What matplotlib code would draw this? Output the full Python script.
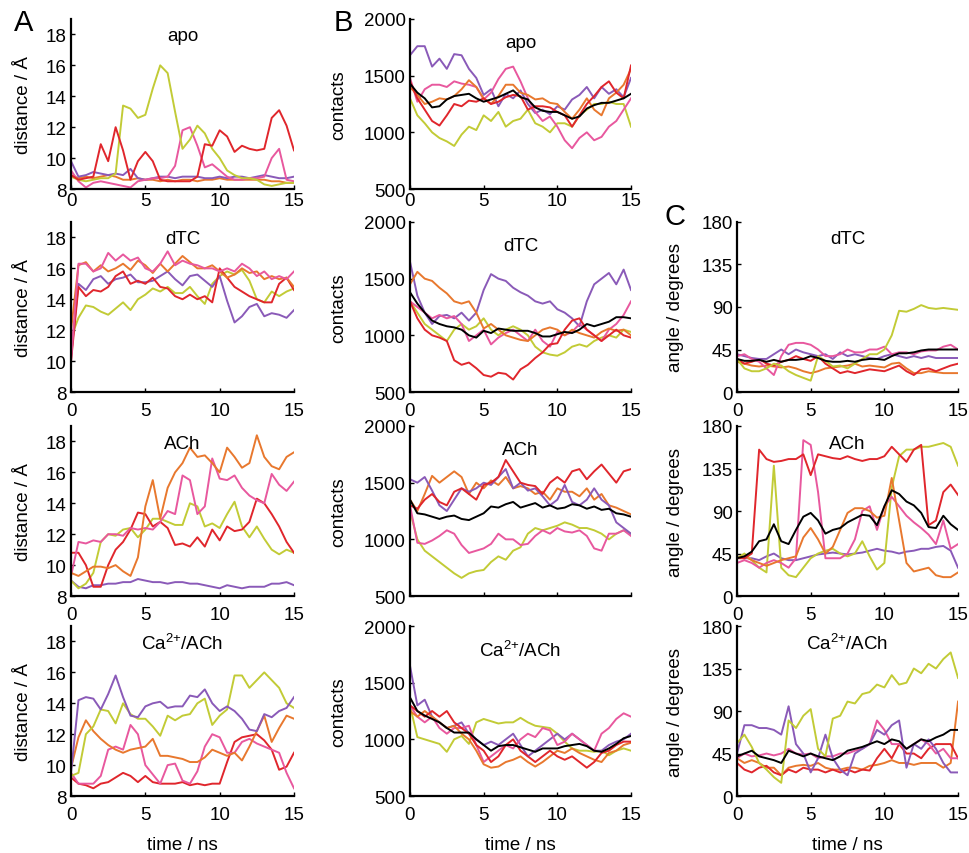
#!/usr/bin/env python3
"""Distance / contacts / angle time traces, 3 columns of small panels."""

import matplotlib
matplotlib.use("Agg")
import matplotlib.pyplot as plt
import numpy as np

plt.rcParams["font.family"] = ["Liberation Sans", "DejaVu Sans"]
plt.rcParams["mathtext.default"] = "regular"

# sampling grid of the traces (ns)
TIME_NS = np.linspace(0.0, 15.0, 31)

RED = "#e0262c"
ORANGE = "#e8782e"
PINK = "#e8589e"
PURPLE = "#8a5ab8"
YELLOW = "#c2cb36"
BLACK = "#000000"

# ---- A: distance / Angstrom ----
dist_apo_yellow = [8.8, 8.6, 8.5, 8.6, 8.7, 8.7, 9.0, 13.4, 13.2, 12.6, 12.8, 14.5, 16.0, 15.5, 13.0, 10.6,
                   11.2, 12.1, 11.6, 10.6, 10.0, 9.2, 8.9, 8.7, 8.7, 8.6, 8.3, 8.2, 8.3, 8.4, 8.4]
dist_apo_red = [8.9, 8.6, 8.7, 8.8, 10.9, 9.8, 12.0, 10.5, 8.6, 9.8, 10.4, 9.8, 8.6, 8.5, 8.5, 8.5,
                8.5, 8.8, 10.9, 10.8, 11.8, 11.4, 10.4, 10.8, 10.6, 10.5, 10.6, 12.6, 13.1, 12.1, 10.5]
dist_apo_pink = [9.2, 8.5, 8.1, 8.4, 8.5, 8.4, 8.3, 8.2, 8.1, 8.5, 8.6, 8.7, 8.7, 8.8, 9.5, 11.8,
                 12.0, 10.8, 9.4, 9.6, 9.2, 8.8, 8.6, 8.6, 8.7, 8.7, 8.8, 10.0, 10.6, 8.6, 8.5]
dist_apo_purple = [9.8, 8.8, 8.9, 9.1, 9.0, 8.9, 9.0, 8.9, 9.3, 8.7, 8.6, 8.7, 8.8, 8.8, 8.7, 8.8,
                   8.8, 8.8, 8.7, 8.7, 8.8, 8.7, 8.8, 8.8, 8.7, 8.8, 8.9, 8.8, 8.7, 8.7, 8.8]
dist_apo_orange = [8.9, 8.7, 8.8, 8.7, 8.8, 8.9, 8.8, 8.6, 8.6, 8.7, 8.6, 8.6, 8.5, 8.6, 8.5, 8.6,
                   8.6, 8.5, 8.6, 8.6, 8.7, 8.6, 8.6, 8.6, 8.6, 8.6, 8.6, 8.5, 8.5, 8.4, 8.4]

dist_dtc_pink = [10.0, 16.3, 16.3, 15.8, 16.0, 17.0, 16.5, 16.9, 16.5, 16.7, 16.0, 15.8, 16.3, 17.1, 16.2, 16.5,
                 16.3, 16.2, 16.0, 16.0, 15.8, 16.0, 15.8, 16.3, 16.0, 15.5, 15.8, 15.3, 15.5, 15.3, 15.8]
dist_dtc_orange = [12.0, 16.2, 16.4, 15.8, 16.2, 15.8, 16.0, 16.3, 15.9, 16.5, 16.2, 15.7, 16.3, 15.8, 16.3, 16.8,
                   16.4, 16.0, 16.0, 16.2, 15.8, 15.4, 15.6, 16.0, 15.7, 15.8, 15.3, 15.5, 15.3, 15.4, 14.8]
dist_dtc_red = [10.0, 14.8, 14.2, 14.6, 14.5, 14.8, 15.5, 15.8, 15.0, 15.2, 15.0, 15.4, 14.8, 14.7, 14.2, 14.0,
                14.3, 14.0, 14.2, 13.8, 16.0, 15.4, 14.8, 14.5, 14.2, 14.0, 13.8, 13.8, 15.0, 15.4, 14.6]
dist_dtc_purple = [10.3, 15.0, 14.6, 15.3, 15.5, 15.0, 15.3, 15.4, 15.6, 15.1, 15.1, 15.2, 15.5, 15.8, 15.3, 14.9,
                   15.5, 15.6, 15.2, 14.8, 15.5, 13.9, 12.5, 12.9, 13.5, 13.7, 12.9, 13.1, 13.0, 12.8, 13.3]
dist_dtc_yellow = [11.5, 12.8, 13.6, 13.5, 13.2, 13.0, 13.4, 13.8, 13.3, 14.0, 14.3, 14.7, 14.5, 14.8, 14.4, 14.4,
                   14.8, 14.2, 13.7, 15.0, 15.5, 15.8, 15.6, 15.9, 15.2, 14.0, 13.8, 14.5, 14.2, 14.5, 14.7]

dist_ach_orange = [9.5, 9.3, 9.6, 9.9, 9.9, 9.8, 10.0, 9.6, 9.3, 10.5, 13.8, 15.5, 13.0, 15.0, 16.0, 16.6,
                   17.6, 17.0, 17.1, 16.6, 16.0, 17.6, 17.0, 16.3, 16.6, 18.4, 17.0, 16.4, 16.2, 17.0, 17.3]
dist_ach_pink = [9.3, 11.5, 11.4, 11.6, 11.5, 12.0, 12.0, 11.9, 12.4, 12.3, 12.4, 12.3, 12.8, 13.5, 13.3, 15.8,
                 15.5, 13.3, 13.8, 16.9, 15.6, 15.5, 15.8, 15.0, 14.5, 14.2, 14.0, 15.9, 15.2, 14.8, 15.4]
dist_ach_red = [10.8, 10.8, 10.0, 8.6, 8.6, 10.0, 11.0, 11.5, 12.3, 13.4, 13.3, 12.5, 12.8, 12.4, 11.3, 11.4,
                11.2, 11.8, 11.2, 12.3, 11.6, 12.5, 12.2, 12.3, 12.8, 14.3, 14.0, 13.3, 12.5, 11.5, 10.8]
dist_ach_yellow = [9.0, 8.5, 8.8, 9.5, 11.5, 12.0, 11.9, 12.3, 12.4, 11.8, 12.3, 13.0, 13.0, 12.8, 12.6, 12.6,
                   14.0, 13.8, 12.5, 12.7, 12.4, 13.3, 14.1, 12.5, 11.8, 12.5, 11.7, 11.0, 10.7, 11.0, 10.8]
dist_ach_purple = [9.0, 8.6, 8.5, 8.7, 8.7, 8.8, 8.8, 8.9, 8.9, 9.1, 9.0, 8.9, 8.9, 8.8, 8.9, 8.9,
                   8.8, 8.8, 8.7, 8.6, 8.5, 8.7, 8.6, 8.5, 8.6, 8.6, 8.6, 8.8, 8.8, 8.9, 8.7]

dist_ca_purple = [9.5, 14.2, 14.4, 14.3, 13.6, 14.6, 15.8, 14.4, 13.2, 13.1, 13.8, 14.0, 14.1, 13.7, 13.8, 13.8,
                  14.5, 14.4, 14.9, 14.0, 13.5, 13.8, 13.5, 13.0, 12.3, 12.2, 13.3, 13.1, 13.5, 13.7, 14.4]
dist_ca_yellow = [9.3, 9.5, 12.0, 12.5, 13.6, 13.5, 12.7, 14.0, 13.3, 13.0, 13.0, 12.5, 11.9, 13.2, 12.9, 13.2,
                  13.3, 14.0, 14.3, 12.6, 13.2, 13.6, 15.8, 15.8, 15.0, 15.5, 16.0, 15.5, 15.0, 14.0, 13.7]
dist_ca_orange = [9.8, 11.8, 12.9, 12.2, 11.7, 11.3, 11.0, 10.8, 11.0, 11.1, 11.2, 11.7, 10.6, 10.6, 10.5, 10.4,
                  10.2, 10.2, 10.5, 11.0, 10.8, 10.6, 10.8, 10.3, 11.2, 12.2, 13.2, 11.5, 12.4, 13.2, 13.0]
dist_ca_pink = [9.5, 8.8, 8.8, 8.8, 9.3, 11.0, 11.2, 11.0, 12.6, 12.0, 10.0, 9.4, 8.8, 10.0, 10.1, 9.0,
                8.8, 9.6, 11.2, 12.0, 11.8, 10.8, 10.8, 11.5, 11.7, 11.4, 11.2, 11.0, 10.8, 9.5, 8.5]
dist_ca_red = [9.2, 8.8, 8.7, 8.5, 8.8, 8.9, 9.2, 9.5, 9.3, 8.9, 9.3, 8.9, 8.8, 8.8, 8.8, 8.9,
               8.7, 8.8, 8.7, 8.8, 8.8, 10.2, 11.5, 11.8, 11.9, 12.0, 11.6, 11.0, 9.7, 9.9, 10.8]

# ---- B: contacts ----
cont_apo_purple = [1680, 1760, 1760, 1580, 1650, 1560, 1690, 1680, 1560, 1480, 1330, 1380, 1230, 1340, 1300, 1370,
                   1250, 1170, 1200, 1160, 1230, 1200, 1290, 1330, 1400, 1300, 1400, 1340, 1380, 1310, 1480]
cont_apo_pink = [1480, 1270, 1380, 1420, 1420, 1400, 1450, 1430, 1420, 1400, 1290, 1350, 1470, 1560, 1580, 1450,
                 1300, 1180, 1100, 1140, 1050, 930, 860, 950, 1000, 930, 960, 1050, 1100, 1200, 1300]
cont_apo_orange = [1400, 1330, 1250, 1270, 1300, 1290, 1320, 1380, 1460, 1400, 1300, 1250, 1320, 1420, 1420, 1350,
                   1330, 1290, 1300, 1260, 1250, 1180, 1120, 1200, 1300, 1200, 1150, 1300, 1350, 1420, 1560]
cont_apo_red = [1450, 1300, 1200, 1100, 1060, 1150, 1250, 1230, 1280, 1270, 1300, 1250, 1270, 1310, 1330, 1320,
                1200, 1230, 1230, 1220, 1180, 1150, 1050, 1150, 1250, 1320, 1400, 1450, 1350, 1300, 1590]
cont_apo_yellow = [1300, 1150, 1080, 1000, 950, 920, 880, 980, 1050, 1020, 1150, 1100, 1180, 1050, 1100, 1120,
                   1200, 1080, 1050, 1000, 1080, 1080, 1050, 1150, 1200, 1250, 1250, 1270, 1250, 1250, 1050]
cont_apo_black = [1430, 1350, 1300, 1220, 1230, 1290, 1320, 1330, 1340, 1300, 1270, 1290, 1310, 1340, 1370, 1310,
                  1290, 1220, 1190, 1180, 1180, 1150, 1120, 1140, 1210, 1240, 1260, 1260, 1280, 1300, 1340]

cont_dtc_purple = [1650, 1350, 1200, 1100, 1170, 1180, 1150, 1200, 1130, 1200, 1400, 1540, 1500, 1480, 1420, 1380,
                   1350, 1300, 1280, 1300, 1230, 1200, 1150, 1080, 1300, 1450, 1500, 1550, 1450, 1580, 1400]
cont_dtc_orange = [1450, 1560, 1500, 1480, 1420, 1370, 1300, 1280, 1300, 1200, 1060, 1100, 1050, 1000, 980, 960,
                   950, 1000, 1050, 1070, 1050, 1000, 1050, 1020, 1000, 980, 1030, 1060, 1040, 1050, 1000]
cont_dtc_pink = [1300, 1250, 1200, 1150, 1180, 1150, 1170, 1100, 950, 1000, 1050, 920, 980, 1020, 1050, 1000,
                 950, 1050, 950, 900, 1030, 1000, 1030, 1100, 1050, 1000, 950, 1050, 1100, 1180, 1300]
cont_dtc_red = [1300, 1150, 1050, 1000, 980, 950, 780, 740, 760, 710, 650, 635, 670, 660, 610, 700,
                740, 800, 850, 920, 930, 1050, 1130, 1150, 1050, 1000, 950, 1000, 1050, 1000, 980]
cont_dtc_yellow = [1300, 1200, 1100, 1050, 1000, 950, 1050, 1100, 1050, 1080, 1150, 1050, 1000, 1050, 1080, 1050,
                   1000, 900, 850, 830, 820, 850, 900, 920, 900, 950, 980, 1000, 980, 1050, 1030]
cont_dtc_black = [1380, 1280, 1200, 1130, 1100, 1080, 1070, 1050, 1000, 980, 1040, 1020, 1060, 1050, 1040, 1040,
                  1040, 1020, 990, 990, 1010, 1030, 1020, 1050, 1100, 1080, 1100, 1120, 1160, 1160, 1150]

cont_ach_red = [1300, 1270, 1350, 1400, 1330, 1300, 1420, 1450, 1400, 1350, 1480, 1500, 1550, 1700, 1600, 1500,
                1480, 1470, 1400, 1500, 1550, 1500, 1600, 1620, 1530, 1600, 1660, 1580, 1500, 1600, 1620]
cont_ach_orange = [1350, 1250, 1400, 1560, 1500, 1550, 1600, 1550, 1400, 1500, 1450, 1520, 1480, 1550, 1450, 1470,
                   1450, 1400, 1420, 1350, 1450, 1420, 1420, 1380, 1450, 1350, 1400, 1300, 1280, 1250, 1220]
cont_ach_purple = [1530, 1500, 1550, 1430, 1300, 1250, 1350, 1450, 1420, 1450, 1500, 1480, 1550, 1620, 1450, 1500,
                   1430, 1450, 1380, 1300, 1350, 1480, 1330, 1300, 1350, 1450, 1350, 1300, 1150, 1100, 1050]
cont_ach_black = [1350, 1230, 1220, 1200, 1180, 1200, 1210, 1180, 1170, 1200, 1230, 1290, 1280, 1310, 1330, 1280,
                  1300, 1320, 1280, 1300, 1270, 1280, 1310, 1300, 1270, 1290, 1260, 1270, 1230, 1220, 1200]
cont_ach_pink = [1300, 970, 960, 990, 1030, 1080, 1050, 950, 880, 900, 920, 960, 1050, 1000, 1000, 950,
                 960, 1030, 1080, 1050, 1100, 1070, 1060, 1080, 1030, 920, 900, 1050, 1050, 1080, 1030]
cont_ach_yellow = [1250, 1000, 900, 850, 800, 750, 700, 660, 700, 720, 730, 800, 850, 820, 900, 930,
                   1050, 1100, 1080, 1100, 1120, 1150, 1130, 1100, 1100, 1080, 1050, 1000, 1050, 1080, 1050]

cont_ca_black = [1370, 1250, 1210, 1180, 1150, 1100, 1060, 1060, 1060, 1000, 950, 900, 940, 950, 950, 930,
                 910, 890, 920, 920, 920, 940, 950, 960, 940, 900, 890, 920, 960, 1010, 1030]
cont_ca_yellow = [1300, 1020, 1000, 980, 960, 890, 1000, 1030, 960, 1150, 1180, 1160, 1140, 1150, 1150, 1190,
                  1150, 1120, 1110, 1100, 1050, 980, 920, 900, 900, 890, 900, 860, 900, 920, 900]
cont_ca_pink = [1300, 1200, 1150, 1200, 1100, 1050, 1100, 1100, 1120, 950, 800, 850, 900, 950, 920, 1000,
                1050, 1020, 1100, 1080, 950, 980, 1050, 1000, 950, 900, 1050, 1100, 1180, 1230, 1200]
cont_ca_purple = [1650, 1300, 1350, 1200, 1150, 1100, 1120, 1150, 1050, 1000, 950, 980, 950, 1000, 1050, 950,
                  850, 900, 950, 1000, 1050, 1000, 1050, 1000, 950, 900, 900, 950, 980, 1000, 1050]
cont_ca_red = [1300, 1250, 1200, 1250, 1200, 1250, 1150, 1100, 1050, 950, 900, 800, 850, 950, 1000, 900,
               850, 800, 850, 900, 850, 820, 850, 800, 750, 800, 880, 900, 950, 980, 980]
cont_ca_orange = [1250, 1200, 1250, 1200, 1150, 1100, 1120, 1050, 1000, 900, 780, 750, 760, 800, 820, 850,
                  800, 760, 800, 850, 900, 880, 920, 880, 850, 820, 800, 880, 900, 950, 970]

# ---- C: angle / degrees ----
ang_dtc_yellow = [35, 25, 22, 22, 25, 30, 28, 22, 18, 15, 12, 38, 33, 27, 28, 25,
                  30, 35, 40, 40, 45, 60, 86, 85, 88, 92, 89, 88, 89, 88, 87]
ang_dtc_pink = [38, 40, 35, 32, 25, 18, 38, 50, 52, 52, 50, 45, 38, 38, 40, 45,
                42, 42, 45, 45, 48, 40, 42, 42, 40, 43, 44, 44, 48, 50, 45]
ang_dtc_purple = [40, 38, 36, 35, 35, 40, 45, 40, 45, 42, 40, 38, 40, 35, 42, 38,
                  40, 38, 36, 35, 38, 40, 38, 36, 38, 36, 38, 36, 36, 36, 36]
ang_dtc_black = [35, 33, 33, 34, 32, 34, 32, 34, 34, 35, 38, 36, 33, 32, 32, 33,
                 32, 34, 35, 35, 34, 38, 41, 41, 42, 44, 45, 45, 45, 45, 45]
ang_dtc_red = [35, 30, 32, 35, 30, 28, 32, 34, 38, 35, 33, 38, 30, 25, 20, 22,
               20, 22, 24, 23, 22, 25, 28, 22, 18, 24, 25, 22, 25, 28, 30]
ang_dtc_orange = [32, 30, 28, 27, 28, 27, 26, 27, 25, 22, 20, 22, 25, 26, 27, 28,
                  30, 27, 28, 27, 26, 30, 31, 25, 20, 20, 22, 21, 20, 20, 20]

ang_ach_red = [40, 40, 45, 155, 145, 142, 143, 145, 145, 150, 128, 150, 148, 146, 145, 148,
               145, 143, 145, 145, 148, 158, 150, 142, 155, 160, 75, 80, 110, 118, 107]
ang_ach_yellow = [40, 45, 38, 30, 25, 138, 30, 22, 20, 30, 40, 45, 48, 50, 45, 42,
                  45, 58, 42, 28, 35, 115, 148, 155, 155, 158, 158, 160, 162, 158, 138]
ang_ach_pink = [35, 38, 35, 30, 35, 38, 35, 30, 40, 165, 160, 110, 40, 40, 40, 45,
                60, 90, 95, 70, 95, 105, 95, 85, 78, 72, 65, 55, 80, 50, 55]
ang_ach_orange = [40, 42, 38, 35, 32, 35, 38, 40, 42, 62, 72, 60, 45, 52, 70, 88,
                  93, 93, 90, 83, 85, 125, 80, 35, 26, 28, 30, 22, 20, 20, 25]
ang_ach_purple = [42, 40, 40, 38, 42, 45, 40, 38, 38, 40, 42, 44, 45, 46, 45, 44,
                  45, 46, 48, 50, 48, 47, 45, 47, 48, 50, 50, 52, 53, 48, 30]
ang_ach_black = [40, 42, 47, 58, 60, 76, 58, 55, 70, 84, 88, 80, 66, 70, 72, 78,
                 82, 86, 85, 75, 95, 112, 108, 100, 96, 88, 73, 72, 85, 76, 70]

ang_ca_yellow = [56, 65, 52, 35, 28, 20, 14, 80, 72, 85, 92, 50, 42, 82, 85, 100,
                 98, 108, 110, 118, 115, 128, 118, 120, 135, 130, 140, 135, 145, 152, 125]
ang_ca_black = [42, 45, 48, 42, 40, 38, 35, 48, 45, 42, 45, 42, 40, 38, 42, 48,
                50, 52, 55, 58, 55, 60, 58, 50, 55, 60, 58, 62, 65, 70, 70]
ang_ca_purple = [45, 75, 75, 72, 72, 70, 65, 95, 55, 45, 25, 40, 65, 40, 28, 22,
                 45, 50, 55, 70, 65, 75, 80, 30, 55, 50, 60, 50, 35, 25, 25]
ang_ca_pink = [40, 45, 42, 43, 45, 43, 45, 50, 45, 44, 45, 40, 42, 42, 45, 45,
               48, 50, 55, 80, 70, 55, 55, 50, 55, 60, 55, 45, 50, 40, 40]
ang_ca_orange = [40, 35, 38, 35, 30, 30, 22, 30, 32, 33, 32, 35, 30, 28, 28, 30,
                 30, 28, 32, 33, 35, 38, 35, 35, 33, 35, 35, 35, 30, 35, 100]
ang_ca_red = [35, 28, 25, 30, 32, 25, 22, 28, 25, 30, 28, 28, 25, 28, 25, 28,
              25, 28, 27, 40, 50, 40, 55, 45, 45, 40, 50, 55, 55, 55, 40]

CA_TITLE = "Ca$^{2{+}}$/ACh"

# column geometry in figure fractions
COL_LEFT = [0.0733, 0.4231, 0.7606]
COL_WIDTH = [0.2301, 0.2281, 0.2281]
ROW_BOTTOM = [0.7775, 0.5398, 0.3009, 0.0667]
ROW_HEIGHT = 0.1991
FS = 13.5


def style_axes(ax, row, ylim, yticks, ylabel, label_x, show_xticklabels=True):
    ax.set_xlim(0, 15)
    ax.set_ylim(*ylim)
    ax.set_xticks([0, 5, 10, 15])
    ax.set_yticks(yticks)
    for side in ("top", "right"):
        ax.spines[side].set_visible(False)
    for side in ("left", "bottom"):
        ax.spines[side].set_linewidth(1.6)
    ax.tick_params(direction="in", length=3, width=1, labelsize=FS, pad=3)
    # the top row has its x labels sitting closer to the axis
    ax.tick_params(axis="x", pad=2 if row == 0 else 7)
    if not show_xticklabels:
        ax.set_xticklabels([])
    ax.set_ylabel(ylabel, fontsize=FS)
    ax.yaxis.set_label_coords(label_x, 0.5)
    if row == 3:
        ax.set_xlabel("time / ns", fontsize=FS)
        ax.xaxis.set_label_coords(0.5, -0.235)


def draw_panel(ax, series, title, title_y):
    for values, color in series:
        ax.plot(TIME_NS, values, color=color, linewidth=1.4, solid_joinstyle="round")
    ax.text(0.5, title_y, title, transform=ax.transAxes, ha="center", va="center", fontsize=FS)


fig = plt.figure(figsize=(9.69, 8.54), dpi=100)

col_a = [
    ("apo", [(dist_apo_orange, ORANGE), (dist_apo_purple, PURPLE), (dist_apo_pink, PINK),
             (dist_apo_yellow, YELLOW), (dist_apo_red, RED)]),
    ("dTC", [(dist_dtc_yellow, YELLOW), (dist_dtc_purple, PURPLE), (dist_dtc_red, RED),
             (dist_dtc_orange, ORANGE), (dist_dtc_pink, PINK)]),
    ("ACh", [(dist_ach_purple, PURPLE), (dist_ach_yellow, YELLOW), (dist_ach_red, RED),
             (dist_ach_pink, PINK), (dist_ach_orange, ORANGE)]),
    (CA_TITLE, [(dist_ca_red, RED), (dist_ca_pink, PINK), (dist_ca_orange, ORANGE),
                (dist_ca_yellow, YELLOW), (dist_ca_purple, PURPLE)]),
]
col_b = [
    ("apo", [(cont_apo_yellow, YELLOW), (cont_apo_purple, PURPLE), (cont_apo_pink, PINK),
             (cont_apo_orange, ORANGE), (cont_apo_red, RED), (cont_apo_black, BLACK)]),
    ("dTC", [(cont_dtc_yellow, YELLOW), (cont_dtc_purple, PURPLE), (cont_dtc_pink, PINK),
             (cont_dtc_orange, ORANGE), (cont_dtc_red, RED), (cont_dtc_black, BLACK)]),
    ("ACh", [(cont_ach_yellow, YELLOW), (cont_ach_pink, PINK), (cont_ach_orange, ORANGE),
             (cont_ach_purple, PURPLE), (cont_ach_red, RED), (cont_ach_black, BLACK)]),
    (CA_TITLE, [(cont_ca_yellow, YELLOW), (cont_ca_purple, PURPLE), (cont_ca_pink, PINK),
                (cont_ca_orange, ORANGE), (cont_ca_red, RED), (cont_ca_black, BLACK)]),
]
col_c = [
    ("dTC", [(ang_dtc_orange, ORANGE), (ang_dtc_red, RED), (ang_dtc_purple, PURPLE),
             (ang_dtc_pink, PINK), (ang_dtc_yellow, YELLOW), (ang_dtc_black, BLACK)]),
    ("ACh", [(ang_ach_purple, PURPLE), (ang_ach_yellow, YELLOW), (ang_ach_pink, PINK),
             (ang_ach_orange, ORANGE), (ang_ach_red, RED), (ang_ach_black, BLACK)]),
    (CA_TITLE, [(ang_ca_orange, ORANGE), (ang_ca_red, RED), (ang_ca_pink, PINK),
                (ang_ca_purple, PURPLE), (ang_ca_yellow, YELLOW), (ang_ca_black, BLACK)]),
]

for row, (title, series) in enumerate(col_a):
    ax = fig.add_axes([COL_LEFT[0], ROW_BOTTOM[row], COL_WIDTH[0], ROW_HEIGHT])
    draw_panel(ax, series, title, 0.9)
    style_axes(ax, row, (8, 19), [8, 10, 12, 14, 16, 18], "distance / Å", -0.175)

for row, (title, series) in enumerate(col_b):
    ax = fig.add_axes([COL_LEFT[1], ROW_BOTTOM[row], COL_WIDTH[1], ROW_HEIGHT])
    draw_panel(ax, series, title, 0.86)
    style_axes(ax, row, (500, 2000), [500, 1000, 1500, 2000], "contacts", -0.285,
               show_xticklabels=(row != 2))

for i, (title, series) in enumerate(col_c):
    row = i + 1
    ax = fig.add_axes([COL_LEFT[2], ROW_BOTTOM[row], COL_WIDTH[2], ROW_HEIGHT])
    draw_panel(ax, series, title, 0.9)
    style_axes(ax, row, (0, 180), [0, 45, 90, 135, 180], "angle / degrees", -0.24)

fig.text(0.024, 0.973, "A", fontsize=21, ha="center", va="center")
fig.text(0.354, 0.973, "B", fontsize=21, ha="center", va="center")
fig.text(0.697, 0.746, "C", fontsize=21, ha="center", va="center")

fig.savefig("out.png", dpi=100)
plt.close(fig)
